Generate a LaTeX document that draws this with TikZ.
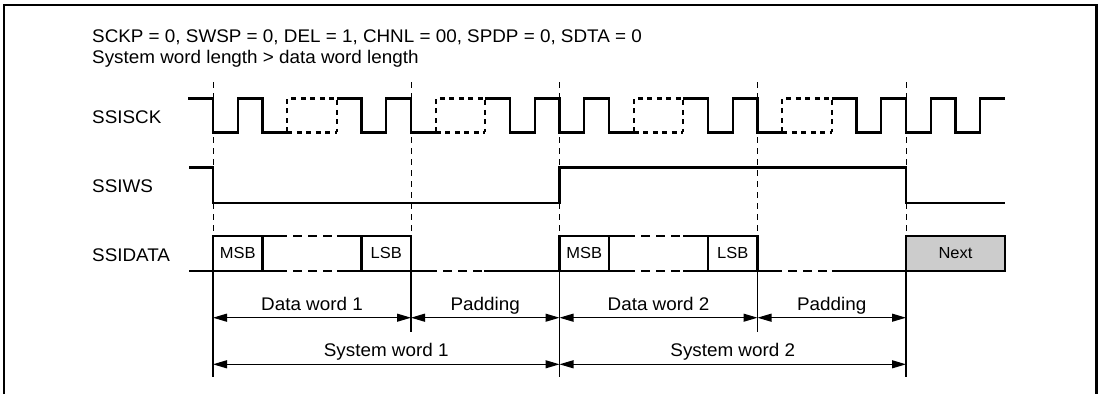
\documentclass[tikz,border=0pt]{standalone}
\usepackage{fontspec}
\setmainfont{Liberation Sans}[FakeStretch=1.03]
\usetikzlibrary{arrows.meta}
\tikzset{
  wave/.style={line width=2.4pt, line join=miter},
  wavedash/.style={line width=2.4pt, dash pattern=on 5pt off 4.5pt},
  datadash/.style={line width=2.4pt, dash pattern=on 9pt off 6pt, dash phase=9pt},
  marker/.style={line width=1pt, dash pattern=on 6pt off 5pt},
  extline/.style={line width=1.1pt},
  dimarrow/.style={line width=1.1pt, {Triangle[length=14pt,width=8pt]}-{Triangle[length=14pt,width=8pt]}},
  txt/.style={inner sep=0pt, font=\fontsize{18.3}{21}\selectfont},
  boxtxt/.style={inner sep=0pt, font=\fontsize{16}{19}\selectfont},
}
\begin{document}
\begin{tikzpicture}[x=1pt,y=-1pt]
\useasboundingbox (0,0) rectangle (1100,394);
% frame
\draw[line width=2.6pt] (4,394) -- (4,5) -- (1096.5,5) -- (1096.5,394);
% header
\node[txt, anchor=base west] (h1) at (92,42.5) {SCKP = 0, SWSP = 0, DEL = 1, CHNL = 00, SPDP = 0, SDTA = 0};
\node[txt, anchor=base west] (h2) at (92,63.5) {System word length > data word length};
% signal names
\node[txt, anchor=base west] (lsck) at (92,123.5) {SSISCK};
\node[txt, anchor=base west] (lws) at (92,192.5) {SSIWS};
\node[txt, anchor=base west] (ldata) at (92,261) {SSIDATA};
% marker lines (dashed part)
\foreach \x in {213,411,559.5,757.5,906}{
  \draw[marker] (\x,82) -- (\x,235.7);
}
% extension lines
\foreach \x in {213,559.5,906}{
  \draw[extline] (\x,270.7) -- (\x,376.7);
}
\foreach \x in {411,757.5}{
  \draw[extline] (\x,270.7) -- (\x,331.7);
}
% SSISCK
\def\H{98.3}\def\L{132.3}
\draw[wave] (188,\H) -- (213,\H) -- (213,\L) -- (237.75,\L) -- (237.75,\H) -- (262.5,\H) -- (262.5,\L) -- (287.25,\L);
\draw[wave] (336.75,\H) -- (361.5,\H) -- (361.5,\L) -- (386.25,\L) -- (386.25,\H) -- (411,\H) -- (411,\L) -- (435.75,\L);
\draw[wave] (485.25,\H) -- (510,\H) -- (510,\L) -- (534.75,\L) -- (534.75,\H) -- (559.5,\H) -- (559.5,\L) -- (584.25,\L) -- (584.25,\H) -- (609,\H) -- (609,\L) -- (633.75,\L);
\draw[wave] (683.25,\H) -- (708,\H) -- (708,\L) -- (732.75,\L) -- (732.75,\H) -- (757.5,\H) -- (757.5,\L) -- (782.25,\L);
\draw[wave] (831.75,\H) -- (856.5,\H) -- (856.5,\L) -- (881.25,\L) -- (881.25,\H) -- (906,\H) -- (906,\L) -- (930.75,\L) -- (930.75,\H) -- (955.5,\H) -- (955.5,\L) -- (980.25,\L) -- (980.25,\H) -- (1005,\H);
\foreach \a/\b in {287.25/336.75, 435.75/485.25, 633.75/683.25, 782.25/831.75}{
  \draw[wavedash] (\a,\L) -- (\a,\H) -- (\b,\H) -- (\b,\L);
  \draw[wavedash] (\a,\L) -- (\b,\L);
}
% SSIWS
\draw[wave] (189,167.3) -- (213,167.3) -- (213,202.7) -- (559.5,202.7) -- (559.5,167.3) -- (906,167.3) -- (906,202.7) -- (1005,202.7);
% SSIDATA
\def\T{235.7}\def\B{270.7}
\draw[wave] (189,\B) -- (287.25,\B);
\draw[wave] (336.75,\B) -- (437,\B);
\draw[wave] (484,\B) -- (635,\B);
\draw[wave] (683.25,\B) -- (782.25,\B);
\draw[wave] (831.75,\B) -- (906,\B);
\foreach \a/\b in {287.25/336.75, 437/484, 635/683.25, 782.25/831.75}{
  \draw[datadash] (\a,\B) -- (\b,\B);
}
% word 1
\draw[wave] (213,\B) -- (213,\T) -- (287.25,\T);
\draw[wave] (336.75,\T) -- (411,\T) -- (411,\B);
\draw[datadash] (287.25,\T) -- (336.75,\T);
\draw[wave] (262.5,\T) -- (262.5,\B);
\draw[wave] (361.5,\T) -- (361.5,\B);
\node[boxtxt] (msb1) at (237.75,253.2) {MSB};
\node[boxtxt] (lsb1) at (386.25,253.2) {LSB};
% word 2
\draw[wave] (559.5,\B) -- (559.5,\T) -- (635,\T);
\draw[wave] (683.25,\T) -- (757.5,\T) -- (757.5,\B);
\draw[datadash] (635,\T) -- (683.25,\T);
\draw[wave] (609,\T) -- (609,\B);
\draw[wave] (708,\T) -- (708,\B);
\node[boxtxt] (msb2) at (584.25,253.2) {MSB};
\node[boxtxt] (lsb2) at (732.75,253.2) {LSB};
% next
\draw[wave, fill=black!20] (906,\T) rectangle (1005,\B);
\node[boxtxt] (next) at (955.5,253.2) {Next};
% dimension coordinates
\coordinate (d0) at (213,317.7);
\coordinate (d1) at (411,317.7);
\coordinate (d2) at (559.5,317.7);
\coordinate (d3) at (757.5,317.7);
\coordinate (d4) at (906,317.7);
\coordinate (s0) at (213,364.3);
\coordinate (s2) at (559.5,364.3);
\coordinate (s4) at (906,364.3);
\draw[dimarrow] (d0) -- (d1);
\draw[dimarrow] (d1) -- (d2);
\draw[dimarrow] (d2) -- (d3);
\draw[dimarrow] (d3) -- (d4);
\draw[dimarrow] (s0) -- (s2);
\draw[dimarrow] (s2) -- (s4);
\node[txt, anchor=base] (dw1) at (312,310) {Data word 1};
\node[txt, anchor=base] (pad1) at (485.25,310) {Padding};
\node[txt, anchor=base] (dw2) at (658.5,310) {Data word 2};
\node[txt, anchor=base] (pad2) at (831.75,310) {Padding};
\node[txt, anchor=base] (sw1) at (386.25,356) {System word 1};
\node[txt, anchor=base] (sw2) at (732.75,356) {System word 2};
\end{tikzpicture}
\end{document}
